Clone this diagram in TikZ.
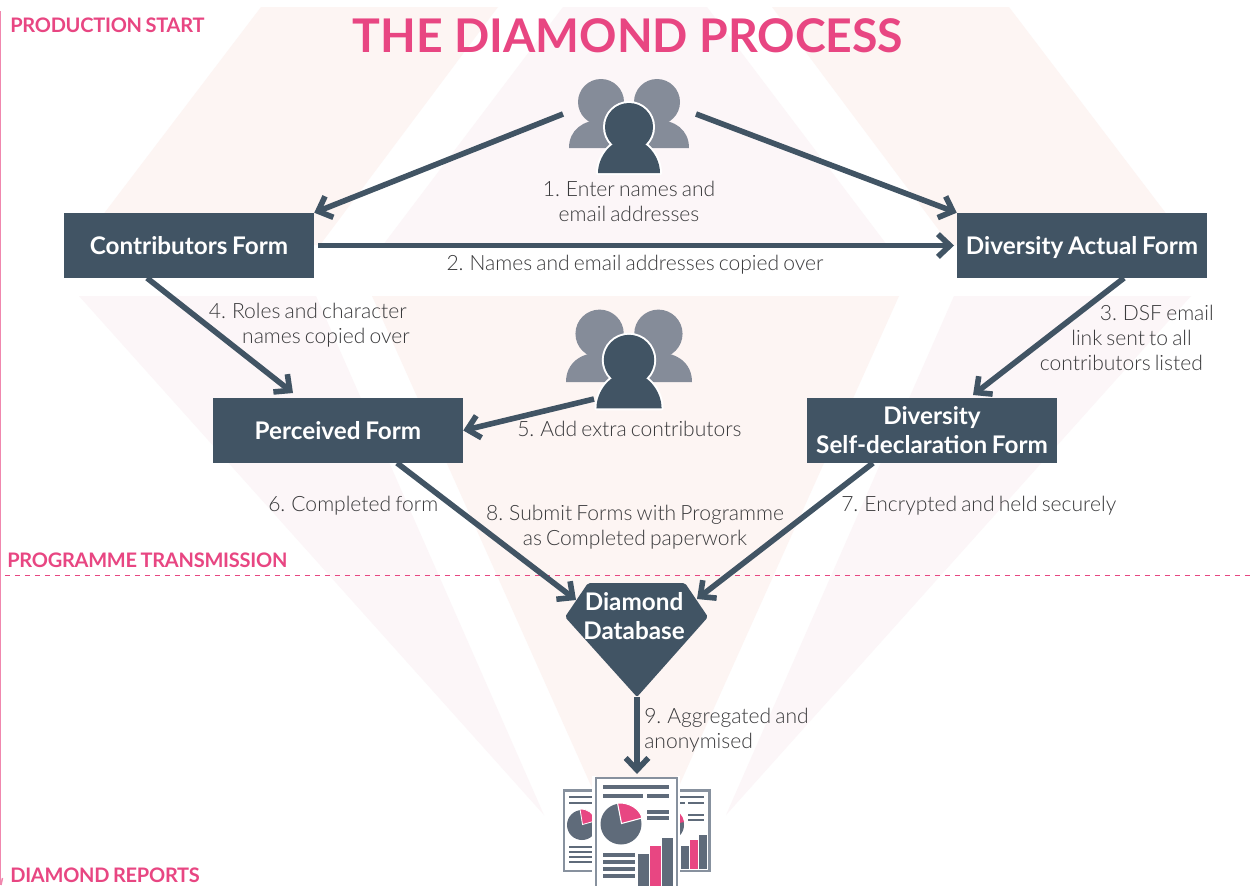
\documentclass[tikz,border=0pt]{standalone}
\usepackage{fontspec}
\setmainfont{Lato}
\newfontfamily\lightface[WordSpace=0.72]{Lato Light}
\newfontfamily\medface[WordSpace=0.8]{Lato Bold}
\newfontfamily\phaseface[LetterSpace=-1.2,WordSpace=0.75]{Lato Bold}
\usetikzlibrary{arrows.meta}
\definecolor{slate}{HTML}{415464}
\definecolor{rose}{HTML}{E84682}
\definecolor{peach}{HTML}{FDF5F3}
\definecolor{lilac}{HTML}{FCF6F8}
\definecolor{ghost}{HTML}{858C99}
\definecolor{docgray}{HTML}{5F6B7A}
\definecolor{docedge}{HTML}{87919E}
\definecolor{inkgray}{HTML}{3A3A3C}
\tikzset{
  x=0.75pt,y=-0.75pt,
  formbox/.style={fill=slate,text=white,inner sep=0pt,align=center,font=\medface\fontsize{18.2}{21.8}\selectfont},
  flow/.style={draw=slate,line width=4.2pt,-{Straight Barb[length=9pt,width=17pt]}},
  note/.style={inner sep=0pt,text=inkgray,font=\lightface\fontsize{15.8}{18.6}\selectfont,anchor=base},
  phase/.style={inner sep=0pt,text=rose,anchor=base west,font=\phaseface\fontsize{15}{18}\selectfont},
  people/.pic={
    \fill[ghost] (-28,-25) circle[radius=23];
    \fill[ghost] (28,-25) circle[radius=23];
    \fill[ghost] (-60,21) .. controls (-60,3) and (-46,-7) .. (-28,-7) .. controls (-10,-7) and (4,3) .. (4,21) -- cycle;
    \fill[ghost] (60,21) .. controls (60,3) and (46,-7) .. (28,-7) .. controls (10,-7) and (-4,3) .. (-4,21) -- cycle;
    \path[fill=white,draw=white,line width=3pt,line join=round] (-31,46) .. controls (-31,30) and (-18,12) .. (0,12) .. controls (18,12) and (31,30) .. (31,46) -- cycle;
    \path[fill=white,draw=white,line width=3pt] (0,0) circle[radius=24];
    \fill[slate] (-31,46) .. controls (-31,30) and (-18,12) .. (0,12) .. controls (18,12) and (31,30) .. (31,46) -- cycle;
    \fill[slate] (0,0) circle[radius=24];
  },
  docline/.style={draw=docgray,line width=2.3pt},
  docthin/.style={draw=docgray,line width=2pt},
}
\begin{document}
\begin{tikzpicture}
\useasboundingbox (0,0) rectangle (1255,885);
\clip (0,0) rectangle (1255,885);
\fill[white] (0,0) rectangle (1255,885);
% background facets
\fill[peach] (261,7) -- (498,7) -- (320,245) -- (80,245) -- cycle;
\fill[lilac] (563,7) -- (707,7) -- (887,245) -- (383,245) -- cycle;
\fill[peach] (772,7) -- (1009,7) -- (1190,245) -- (950,245) -- cycle;
\fill[lilac] (79,296) -- (316,296) -- (544,815) -- cycle;
\fill[peach] (372,296) -- (899,296) -- (635,884) -- cycle;
\fill[lilac] (954,296) -- (1191,296) -- (726,815) -- cycle;
% phase rules
\draw[rose!65,line width=1.1pt] (0.6,11) -- (0.6,885);
\draw[rose!65,line width=1.1pt] (2.5,878) -- (1,885);
\draw[rose,line width=0.75pt,dash pattern=on 3.4pt off 4.1pt] (5,575.5) -- (1255,575.5);
% title and phases
\node[inner sep=0pt,text=rose,anchor=base,font=\bfseries\fontsize{34.8}{40}\selectfont] (title) at (628,52) {THE DIAMOND PROCESS};
\node[phase] (start) at (10,32) {PRODUCTION START};
\node[phase] (trans) at (7,567) {PROGRAMME TRANSMISSION};
\node[phase] (reports) at (10,882) {DIAMOND REPORTS};
% boxes
\node[formbox,minimum width=187.5pt,minimum height=48.75pt] (contrib) at (189,245.5) {Contributors Form};
\node[formbox,minimum width=187.5pt,minimum height=48.75pt,text depth=0pt] (actual) at (1082,245.5) {Diversity Actual Form};
\node[formbox,minimum width=187.5pt,minimum height=48.75pt] (perceived) at (338,430.5) {Perceived Form};
\node[formbox,minimum width=187.5pt,minimum height=48.75pt] (dsf) at (932,430.5) {Diversity\\Self-declaration Form};
% diamond
\fill[slate,rounded corners=1.5pt] (588,583) -- (685,583) -- (708,617) -- (637,697) -- (565,617) -- cycle;
\node[inner sep=0pt,text=white,align=center,font=\medface\fontsize{18.2}{21.8}\selectfont] (db) at (634,616) {Diamond\\Database};
% people
\pic at (629,127) {people};
\pic[scale=1.05] at (629,360) {people};
\coordinate (crowdL) at (563,114);
\coordinate (crowdR) at (696,114);
\coordinate (crowdB) at (594,399);
% reports
\coordinate (docs) at (637,774);
\begin{scope}
\fill[white,draw=docedge,line width=1.8pt] (564,790.5) rectangle (630,871);
\foreach \yy in {797,803} \draw[docthin] (569,\yy) -- (596,\yy);
\fill[docgray] (582,825) circle[radius=15];
\fill[rose,draw=white,line width=0.6pt] (582.5,824.5) -- (580,809) .. controls (588,809) and (594,813) .. (595,821) -- cycle;
\foreach \yy in {847,852,857,862} \draw[docthin] (569,\yy) -- (596,\yy);
\fill[white,draw=docedge,line width=1.8pt] (640,790.5) rectangle (709.5,871);
\draw[docthin] (675,797) -- (704,797);
\draw[docthin] (675,803) -- (685,803) (688,803) -- (704,803);
\foreach \yy in {815,820} \draw[docthin] (688,\yy) -- (704,\yy);
\fill[docgray] (669,825) circle[radius=15];
\fill[rose] (669,825) -- (671,810) .. controls (678,810) and (683,815) .. (684,822) -- cycle;
\fill[docgray] (681,846) rectangle (689,869);
\fill[rose] (690,840) rectangle (698,869);
\fill[docgray] (699,835) rectangle (707,869);
\draw[white,line width=2.5pt] (594,776) -- (594,885) (678.5,776) -- (678.5,885);
\fill[white,draw=docedge,line width=1.9pt] (596,778) rectangle (677,895);
\draw[docline] (603,787) -- (669,787);
\draw[docline] (603,796) -- (643,796) (647,796) -- (669,796);
\foreach \yy in {812,818} \draw[docline] (647,\yy) -- (669,\yy);
\fill[docgray] (621,824) circle[radius=20.5];
\fill[rose,draw=white,line width=0.8pt] (621.5,823.5) -- (617.5,803) .. controls (629,802) and (640,809) .. (642,818) -- cycle;
\foreach \yy in {855,862,869,876} \draw[docline] (603,\yy) -- (635,\yy);
\fill[docgray] (638,854) rectangle (649,890);
\fill[rose] (650,846) rectangle (661,890);
\fill[docgray] (662,838) rectangle (673,890);
\end{scope}
% connectors
\draw[flow] (crowdL) -- (contrib.north east);
\draw[flow] (crowdR) -- (actual.north west);
\draw[flow] (contrib.east) ++(4,0) -- (954,245.5);
\draw[flow] (1124,278) -- (973,395);
\draw[flow] (147,278) -- (293,393);
\draw[flow] (crowdB) -- (perceived.east);
\draw[flow] (397,463) -- (576,600);
\draw[flow] (873,463) -- (697,599);
\draw[flow] (637,697) -- (docs);
% labels
\node[note,align=center] (n1) at (629,221) {1. Enter names and\\email addresses};
\node[note] (n2) at (635,270) {2. Names and email addresses copied over};
\node[note,align=right,anchor=base east] (n3) at (1214,370) {3. DSF email\\link sent to all\hspace*{16.5pt}\mbox{}\\contributors listed\hspace*{8.2pt}\mbox{}};
\node[note,align=right,anchor=base east] (n4) at (410,343) {4. Roles and character\hspace*{2.2pt}\mbox{}\\names copied over};
\node[note,anchor=base west] (n5) at (517,436) {5. Add extra contributors};
\node[note,anchor=base west] (n6) at (268,511) {6. Completed form};
\node[note,anchor=base west] (n7) at (841,511) {7. Encrypted and held securely};
\node[note,align=center] (n8) at (635,545) {8. Submit Forms with Programme\\as Completed paperwork};
\node[note,align=left,anchor=base west] (n9) at (644,748) {9. Aggregated and\\anonymised};
\end{tikzpicture}
\end{document}
